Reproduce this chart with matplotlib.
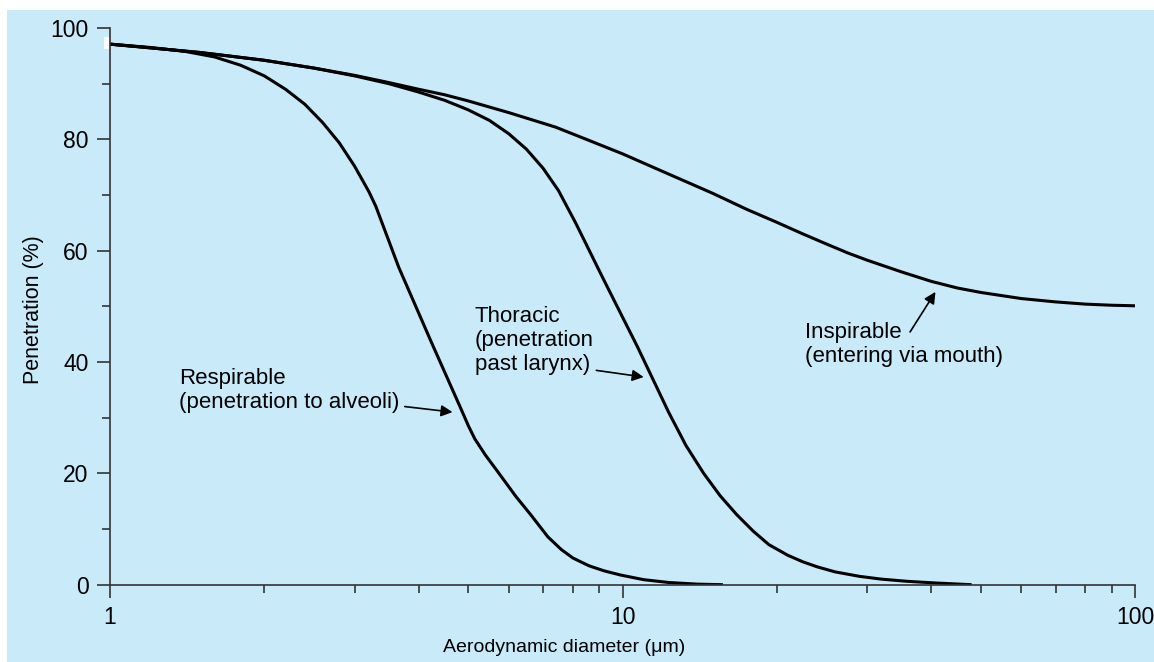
import matplotlib
matplotlib.use("Agg")
import matplotlib.pyplot as plt
from matplotlib.patches import Rectangle
from matplotlib.ticker import FixedLocator, NullFormatter

plt.rcParams['font.family'] = ['Liberation Sans', 'DejaVu Sans']

# penetration curves (aerodynamic diameter in um, penetration in %)
insp_d = [1, 1.5, 2, 2.5, 3, 3.5, 4, 4.5, 5, 6, 7.4, 8.5, 10, 12, 15, 17.5,
          20, 22.5, 25, 27.5, 30, 35, 40, 45, 50, 60, 70, 80, 90, 100]
insp_v = [97.1, 95.6, 94.2, 92.8, 91.5, 90.2, 89.0, 88.0, 86.9, 84.8, 82.2,
          80.0, 77.4, 74.2, 70.3, 67.4, 65.1, 63.0, 61.2, 59.6, 58.3, 56.2,
          54.5, 53.3, 52.5, 51.4, 50.8, 50.4, 50.2, 50.1]

thor_d = [1, 1.5, 2, 2.5, 3, 3.5, 4, 4.5, 5, 5.5, 6, 6.5, 7, 7.5, 8.1, 9.2,
          10.7, 12.3, 13.3, 14.4, 15.5, 16.7, 18, 19.3, 21, 22.5, 24, 26, 29,
          32, 36, 41, 48]
thor_v = [97.1, 95.6, 94.2, 92.8, 91.4, 90.0, 88.5, 87.0, 85.3, 83.4, 81.0,
          78.2, 74.8, 70.8, 65.0, 54.7, 42.7, 31.0, 25.0, 20.0, 16.0, 12.6,
          9.6, 7.2, 5.3, 4.1, 3.2, 2.3, 1.5, 1.0, 0.6, 0.3, 0.0]

resp_d = [1, 1.2, 1.4, 1.6, 1.8, 2.0, 2.2, 2.4, 2.6, 2.8, 3.0, 3.2, 3.3,
          3.66, 4.24, 4.85, 5.0, 5.15, 5.4, 5.72, 6.2, 6.63, 7.15, 7.6, 8.0,
          8.6, 9.2, 9.9, 11, 12.3, 14, 15.7]
resp_v = [97.1, 96.5, 95.8, 94.8, 93.3, 91.4, 89.0, 86.3, 83.0, 79.4, 75.2,
          70.6, 68.0, 57.0, 43.5, 31.4, 28.6, 26.2, 23.3, 20.2, 15.8, 12.5,
          8.6, 6.3, 4.8, 3.4, 2.5, 1.75, 0.9, 0.4, 0.1, 0.0]

y_major = [0, 20, 40, 60, 80, 100]
y_minor = [10, 30, 50, 70, 90]
x_major = [1, 10, 100]
x_labels = ['1', '10', '100']

bg = '#c8eaf9'
spine_col = '#333333'

fig = plt.figure(figsize=(11.54, 6.62), dpi=100)
fig.patch.set_facecolor('white')
# blue panel behind everything, with a small white notch left of the y axis
fig.patches.append(Rectangle((7 / 1154, 0), 1 - 7 / 1154, 1 - 10 / 662,
                             transform=fig.transFigure, facecolor=bg,
                             edgecolor='none', zorder=-10))
fig.patches.append(Rectangle((104 / 1154, (662 - 49.3) / 662), 4.7 / 1154, 12 / 662,
                             transform=fig.transFigure, facecolor='white',
                             edgecolor='none', zorder=-9))

ax = fig.add_axes([110 / 1154, 77.3 / 662, 1025 / 1154, 556.7 / 662])
ax.patch.set_alpha(0)

for d, v in [(insp_d, insp_v), (thor_d, thor_v), (resp_d, resp_v)]:
    ax.plot(d, v, color='black', lw=2.2, solid_joinstyle='round',
            solid_capstyle='butt')

ax.set_xscale('log')
ax.set_xlim(1, 100)
ax.set_ylim(0, 100)

ax.xaxis.set_major_locator(FixedLocator(x_major))
ax.set_xticklabels(x_labels)
ax.xaxis.set_minor_locator(FixedLocator([2, 3, 4, 5, 6, 7, 8, 9,
                                         20, 30, 40, 50, 60, 70, 80, 90]))
ax.xaxis.set_minor_formatter(NullFormatter())
ax.yaxis.set_major_locator(FixedLocator(y_major))
ax.yaxis.set_minor_locator(FixedLocator(y_minor))

for s in ['top', 'right']:
    ax.spines[s].set_visible(False)
for s in ['left', 'bottom']:
    ax.spines[s].set_color(spine_col)
    ax.spines[s].set_linewidth(1.2)

ax.tick_params(which='major', direction='out', length=9.5, width=1.2,
               color=spine_col, labelsize=16.5, pad=6)
ax.tick_params(which='minor', direction='out', length=5.5, width=1.2,
               color=spine_col)

ax.set_xlabel('Aerodynamic diameter (\u03bcm)', fontsize=14)
ax.xaxis.set_label_coords(0.443, -0.098)
ax.set_ylabel('Penetration (%)', fontsize=15.5)
ax.yaxis.set_label_coords(-0.064, 0.495)

# curve labels with arrows
ax.text(1.365, 38.9, 'Respirable\n(penetration to alveoli)', fontsize=16,
        va='top', ha='left', linespacing=1.2)
ax.annotate('', xy=(4.66, 31.0), xytext=(3.76, 32.0),
            arrowprops=dict(arrowstyle='-|>', color='black', lw=1.2,
                            mutation_scale=17, shrinkA=0, shrinkB=0))

ax.text(5.15, 50.1, 'Thoracic\n(penetration\npast larynx)', fontsize=16,
        va='top', ha='left', linespacing=1.2)
ax.annotate('', xy=(11.0, 37.3), xytext=(8.89, 38.5),
            arrowprops=dict(arrowstyle='-|>', color='black', lw=1.2,
                            mutation_scale=17, shrinkA=0, shrinkB=0))

ax.text(22.7, 47.2, 'Inspirable\n(entering via mouth)', fontsize=16,
        va='top', ha='left', linespacing=1.2)
ax.annotate('', xy=(40.8, 52.6), xytext=(36.4, 45.4),
            arrowprops=dict(arrowstyle='-|>', color='black', lw=1.2,
                            mutation_scale=17, shrinkA=0, shrinkB=0))

fig.savefig('out.png', dpi=100)
